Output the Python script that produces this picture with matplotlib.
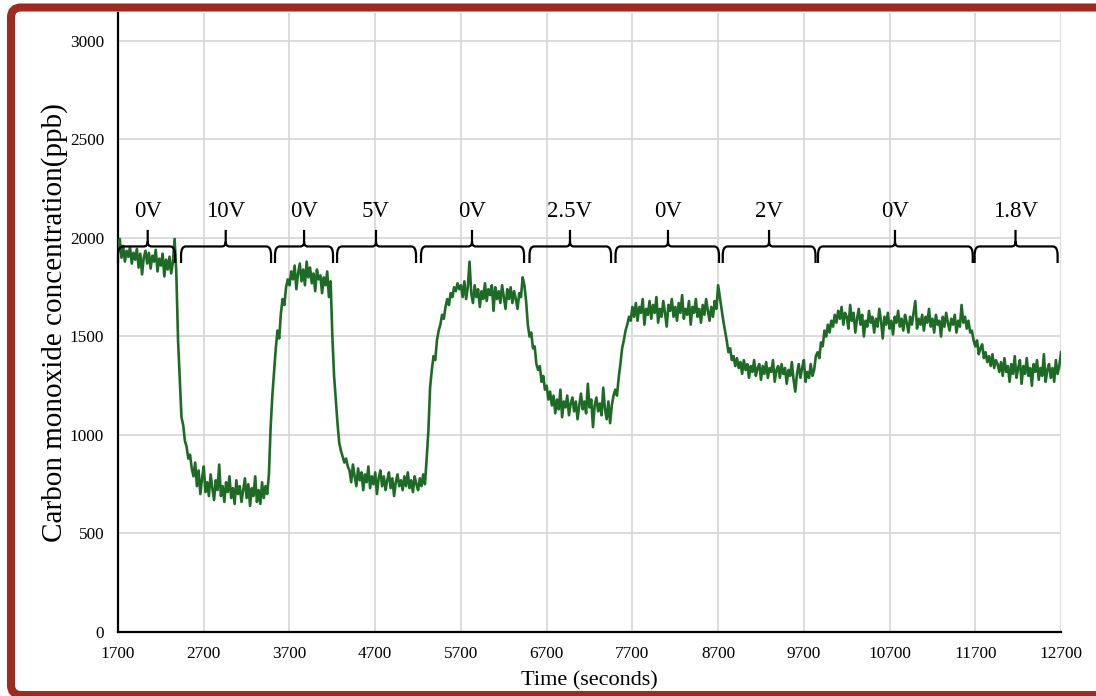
import numpy as np
import matplotlib
matplotlib.use("Agg")
import matplotlib.pyplot as plt
from matplotlib.path import Path
from matplotlib.patches import PathPatch, FancyBboxPatch


# ------------------------------------------------------------
# CO concentration, one reading every 20 s, grouped by voltage step
# ------------------------------------------------------------

SAMPLE_STEP_S = 20

seg_start_s = [1700, 2380, 3460, 4220, 5300, 6460, 7500, 8740, 9860, 11700]

co_0v_a = [1950, 1995, 1900, 1960, 1880, 1935, 1905, 1955, 1870, 1925,
           1890, 1945, 1850, 1920, 1815, 1900, 1935, 1870, 1925, 1845,
           1910, 1880, 1940, 1830, 1895, 1860, 1920, 1805, 1890, 1840,
           1905, 1820, 1880, 1995]
co_10v = [1820, 1480, 1290, 1090, 1050, 970, 940, 880, 900, 830,
          790, 860, 740, 820, 700, 780, 840, 710, 760, 690,
          800, 730, 670, 770, 720, 850, 690, 740, 660, 760,
          710, 790, 680, 730, 650, 770, 700, 740, 660, 720,
          780, 680, 750, 640, 730, 690, 790, 660, 720, 650,
          760, 680, 740, 700]
co_0v_b = [800, 1040, 1200, 1320, 1440, 1530, 1490, 1620, 1690, 1660,
           1750, 1790,
           1760, 1830, 1790, 1860, 1740, 1820, 1870, 1780, 1840, 1760,
           1880, 1800, 1850, 1770, 1820, 1730, 1840, 1790, 1810, 1720,
           1800, 1760, 1830, 1700, 1780, 1500]
co_5v = [1300, 1180, 1060, 960, 920, 890, 860, 880, 840,
         820, 760, 850, 790, 740, 830, 770, 810, 720, 800,
         760, 840, 730, 790, 750, 810, 700, 780, 820, 740,
         790, 720, 770, 810, 730, 780, 690, 760, 800, 740,
         770, 720, 790, 740, 810, 730, 770, 710, 790, 750,
         720, 780, 740, 800, 750]
co_0v_c = [880, 1020, 1240, 1330, 1400, 1380, 1480, 1530, 1560, 1610,
           1590, 1650, 1690, 1660, 1720, 1700, 1750, 1730, 1770, 1740,
           1760, 1700, 1780, 1690, 1750, 1880, 1720, 1670, 1760, 1700,
           1740, 1650, 1730, 1690, 1770, 1680, 1740, 1710, 1760, 1630,
           1750, 1690, 1730, 1670, 1760, 1700, 1640, 1740, 1690, 1750,
           1670, 1730, 1690, 1640, 1720, 1700, 1800, 1760]
co_2v5 = [1680, 1560, 1500, 1520, 1440, 1450, 1360, 1330, 1350, 1270,
          1300, 1230, 1250, 1180, 1220,
          1150, 1200, 1110, 1180, 1130, 1230, 1090, 1170, 1140, 1200,
          1100, 1160, 1190, 1120, 1170, 1080, 1150, 1210, 1130, 1170,
          1110, 1260, 1140, 1180, 1040, 1150, 1190, 1120, 1160, 1100,
          1240, 1130, 1080, 1170, 1060, 1150, 1200]
co_0v_d = [1230, 1200, 1290, 1360, 1440, 1480, 1530, 1560, 1600, 1580,
           1650,
           1600, 1670, 1580, 1650, 1620, 1690, 1560, 1640, 1610, 1680,
           1590, 1660, 1620, 1700, 1570, 1640, 1600, 1680, 1620, 1550,
           1660, 1630, 1690, 1600, 1650, 1580, 1670, 1620, 1710, 1590,
           1640, 1610, 1680, 1560, 1650, 1620, 1690, 1600, 1640, 1570,
           1660, 1610, 1690, 1630, 1580, 1650, 1600, 1680, 1640, 1760,
           1700]
co_2v = [1640, 1580, 1530, 1480, 1420, 1440, 1380, 1400, 1350,
         1390, 1340, 1370, 1310, 1380, 1330, 1360, 1290, 1350, 1320,
         1380, 1300, 1340, 1360, 1280, 1350, 1310, 1370, 1290, 1340,
         1320, 1380, 1270, 1330, 1350, 1290, 1360, 1310, 1340, 1260,
         1330, 1300, 1370, 1280, 1220, 1310, 1360, 1290, 1340, 1380,
         1270, 1320, 1290, 1360, 1300, 1330, 1400]
co_0v_e = [1420, 1390, 1470, 1450, 1530, 1500, 1560, 1520, 1580, 1550,
           1610, 1570, 1630, 1590, 1650, 1560, 1620,
           1600, 1540, 1660, 1580, 1620, 1520, 1590, 1640, 1560, 1610,
           1500, 1580, 1550, 1630, 1570, 1600, 1520, 1590, 1550, 1640,
           1580, 1490, 1600, 1560, 1620, 1540, 1580, 1510, 1600, 1570,
           1630, 1550, 1590, 1530, 1610, 1570, 1520, 1600, 1560, 1620,
           1680, 1540, 1590, 1560, 1610, 1530, 1600, 1570, 1640, 1550,
           1590, 1520, 1610, 1560, 1580, 1500, 1600, 1550, 1620, 1570,
           1530, 1590, 1560, 1610, 1520, 1580, 1550, 1660, 1570, 1600,
           1540, 1580, 1520, 1530, 1480]
co_1v8 = [1450, 1480, 1410, 1440, 1460, 1390, 1420, 1370, 1400, 1350,
          1410, 1340, 1380, 1360, 1320,
          1370, 1300, 1390, 1320, 1350, 1270, 1360, 1310, 1400, 1290,
          1340, 1380, 1260, 1350, 1310, 1390, 1300, 1340, 1250, 1360,
          1320, 1380, 1280, 1340, 1300, 1410, 1270, 1330, 1360, 1290,
          1340, 1270, 1380, 1310, 1350, 1420]

co_segments = [co_0v_a, co_10v, co_0v_b, co_5v, co_0v_c,
               co_2v5, co_0v_d, co_2v, co_0v_e, co_1v8]

time_s = np.concatenate([start + SAMPLE_STEP_S * np.arange(len(seg))
                         for start, seg in zip(seg_start_s, co_segments)])
co_ppb = np.concatenate([np.asarray(seg, dtype=float) for seg in co_segments])

# Applied voltage steps (start, end, centre of brace, label)
step_start_s = [1700, 2435, 3531, 4255, 5234, 6500, 7503, 8754, 9865, 11692]
step_end_s = [2365, 3485, 4208, 5176, 6436, 7451, 8710, 9836, 11670, 12660]
step_mid_s = [2046, 2956, 3870, 4709, 5829, 6972, 8115, 9294, 10763, 12169]
step_labels = ["0V", "10V", "0V", "5V", "0V", "2.5V", "0V", "2V", "0V", "1.8V"]

x_ticks = np.arange(1700, 12701, 1000)
y_ticks = np.arange(0, 3001, 500)


# ------------------------------------------------------------
# Figure
# ------------------------------------------------------------

serif = "Liberation Serif"
line_green = "#1e6b26"

fig = plt.figure(figsize=(10.96, 6.96), dpi=100)
ax = fig.add_axes([0.1077, 0.0920, 0.8604, 0.8893])

ax.plot(time_s, co_ppb, color=line_green, linewidth=1.9, zorder=3)

ax.set_xlim(1700, 12700)
ax.set_ylim(0, 3142)
ax.set_xticks(x_ticks)
ax.set_yticks(y_ticks)
ax.grid(True, color="#d9d9d9", linewidth=1.3, zorder=0)
ax.set_axisbelow(True)

for side in ("top", "right"):
    ax.spines[side].set_visible(False)
for side in ("left", "bottom"):
    ax.spines[side].set_color("black")
    ax.spines[side].set_linewidth(1.6)

ax.tick_params(axis="both", length=0, labelsize=12.4)
ax.tick_params(axis="y", pad=10)
ax.tick_params(axis="x", pad=10)
for lab in ax.get_xticklabels() + ax.get_yticklabels():
    lab.set_fontfamily(serif)

ax.set_xlabel("Time (seconds)", fontfamily=serif, fontsize=16, labelpad=7)
ax.set_ylabel("Carbon monoxide concentration(ppb)", fontfamily=serif,
              fontsize=21, labelpad=1)


# Curly braces above the trace marking each voltage step
y_end, y_h, y_top = 1873, 1957, 2041
dx_end, dy_end = 55, 45
dx_mid, dy_mid = 45, 25
label_y = 2135


def brace_path(x0, x1, xc):
    verts = [
        (x0, y_end), (x0, y_h - dy_end),
        (x0, y_h), (x0 + dx_end, y_h),
        (xc - dx_mid, y_h),
        (xc, y_h), (xc, y_h + dy_mid),
        (xc, y_top),
        (xc, y_h + dy_mid),
        (xc, y_h), (xc + dx_mid, y_h),
        (x1 - dx_end, y_h),
        (x1, y_h), (x1, y_h - dy_end),
        (x1, y_end),
    ]
    codes = [
        Path.MOVETO, Path.LINETO,
        Path.CURVE3, Path.CURVE3,
        Path.LINETO,
        Path.CURVE3, Path.CURVE3,
        Path.LINETO,
        Path.MOVETO,
        Path.CURVE3, Path.CURVE3,
        Path.LINETO,
        Path.CURVE3, Path.CURVE3,
        Path.LINETO,
    ]
    return Path(verts, codes)


for x0, x1, xc, lab in zip(step_start_s, step_end_s, step_mid_s, step_labels):
    ax.add_patch(PathPatch(brace_path(x0, x1, xc), facecolor="none",
                           edgecolor="black", linewidth=1.6, zorder=4,
                           clip_on=False))
    ax.text(xc, label_y, lab, ha="center", va="center", fontfamily=serif,
            fontsize=16.5, zorder=4)


# Dark red frame round the chart
frame = FancyBboxPatch((0.11, 0.01), 11.2, 6.875,
                       boxstyle="round,pad=0,rounding_size=0.1",
                       transform=fig.dpi_scale_trans, facecolor="none",
                       edgecolor="#9d2b1f", linewidth=5.8, clip_on=False)
fig.add_artist(frame)

fig.savefig("out.png", dpi=100)
